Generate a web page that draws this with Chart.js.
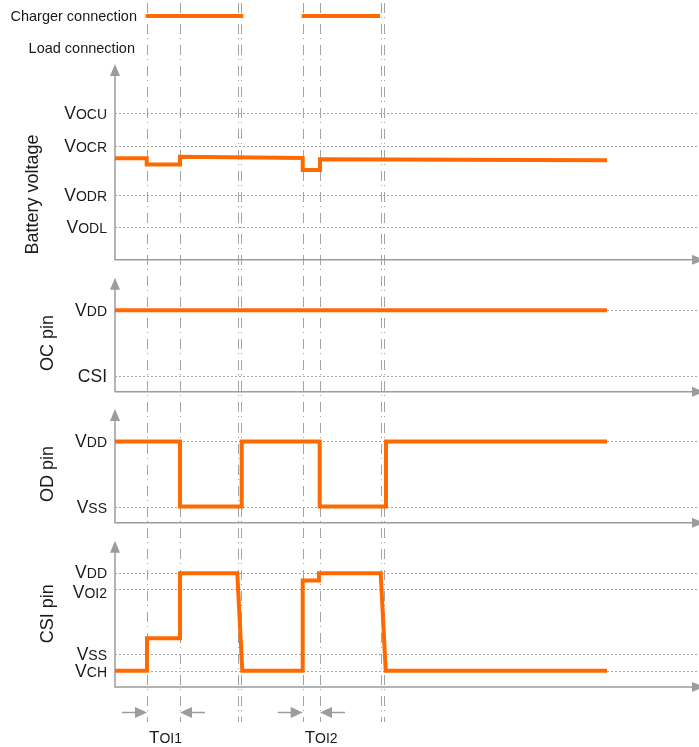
<!DOCTYPE html>
<html>
<head>
<meta charset="utf-8">
<script src="https://cdn.jsdelivr.net/npm/chart.js@4/dist/chart.umd.min.js"></script>
<style>
  html, body { margin: 0; padding: 0; background: #fff; overflow: hidden; }
  #wrap { width: 699px; height: 747px; position: relative; }
</style>
</head>
<body>
<div id="wrap"><canvas id="timing"></canvas></div>
<script>
// 時間軸は任意単位 (0 = 縦軸の位置)
const markerTimes = [3.2, 6.5, 12.27, 12.57, 18.77, 20.5, 26.6, 26.93];
const chargerOn = [[3.07, 12.83], [18.67, 26.5]];
const toiWindows = [[3.2, 6.5], [18.77, 20.5]];
const toiNames = [['T', 'OI1'], ['T', 'OI2']];

// 電池電圧
const batteryTimes = [0, 3.17, 3.17, 6.5, 6.5, 18.77, 18.77, 20.5, 20.5, 49.2];
const batteryValues = [6.22, 6.22, 5.84, 5.84, 6.32, 6.24, 5.5, 5.5, 6.16, 6.1];
const batteryLevels = [9, 7, 4, 2];
const batteryNames = [['V', 'OCU'], ['V', 'OCR'], ['V', 'ODR'], ['V', 'ODL']];

// OC端子
const ocTimes = [0, 49.2];
const ocValues = [5, 5];
const ocLevels = [5, 1];
const ocNames = [['V', 'DD'], ['CSI', '']];

// OD端子
const odTimes = [0, 6.5, 6.5, 12.67, 12.67, 20.47, 20.47, 27.1, 27.1, 49.2];
const odValues = [5, 5, 1, 1, 5, 5, 1, 1, 5, 5];
const odLevels = [5, 1];
const odNames = [['V', 'DD'], ['V', 'SS']];

// CSI端子
const csiTimes = [0, 3.2, 3.2, 6.5, 6.5, 12.23, 12.73, 18.77, 18.77, 20.4, 20.4, 26.57, 27.07, 49.2];
const csiValues = [1, 1, 3, 3, 7, 7, 1, 1, 6.55, 6.55, 7, 7, 1, 1];
const csiLevels = [7, 6, 2, 1];
const csiNames = [['V', 'DD'], ['V', 'OI2'], ['V', 'SS'], ['V', 'CH']];

const ORANGE = '#ff6a00';
const GRAY = '#a3a3a3';
const TEXT = '#1a1a1a';
const FONT = "'Liberation Sans', Arial, sans-serif";

const panels = [
  { axis: 'yBat', title: 'Battery voltage', titleAt: 4, titleX: 33, top: 12, levels: batteryLevels, names: batteryNames, nudge: [0, 0, 0, 0] },
  { axis: 'yOC', title: 'OC pin', titleAt: 3, titleX: 48, top: 7, levels: ocLevels, names: ocNames, nudge: [0, 0] },
  { axis: 'yOD', title: 'OD pin', titleAt: 3, titleX: 48, top: 7, levels: odLevels, names: odNames, nudge: [0, 0] },
  { axis: 'yCSI', title: 'CSI pin', titleAt: 4.5, titleX: 48, top: 9, levels: csiLevels, names: csiNames, nudge: [-1, 3, 0, 0] }
];

function toPoints(times, values) {
  return times.map((t, i) => ({ x: t, y: values[i] }));
}

function signal(times, values, axis) {
  return {
    data: toPoints(times, values),
    yAxisID: axis,
    borderColor: ORANGE,
    borderWidth: 4,
    borderJoinStyle: 'miter',
    borderCapStyle: 'butt',
    pointRadius: 0,
    tension: 0,
    fill: false
  };
}

const datasets = [
  ...chargerOn.map(([a, b]) => signal([a, b], [3, 3], 'yTop')),
  signal(batteryTimes, batteryValues, 'yBat'),
  signal(ocTimes, ocValues, 'yOC'),
  signal(odTimes, odValues, 'yOD'),
  signal(csiTimes, csiValues, 'yCSI')
];

// 小さい添字つきの文字を描く
function subText(ctx, main, sub, x, y, align, big, small) {
  ctx.font = big + 'px ' + FONT;
  const w1 = ctx.measureText(main).width;
  ctx.font = small + 'px ' + FONT;
  const w2 = sub ? ctx.measureText(sub).width : 0;
  const left = align === 'right' ? x - w1 - w2 : x;
  ctx.textAlign = 'left';
  ctx.textBaseline = 'alphabetic';
  ctx.font = big + 'px ' + FONT;
  ctx.fillText(main, left, y);
  if (sub) {
    ctx.font = small + 'px ' + FONT;
    ctx.fillText(sub, left + w1, y);
  }
}

function arrowHead(ctx, x, y, dir, len, half) {
  ctx.beginPath();
  ctx.moveTo(x, y);
  if (dir === 'up') {
    ctx.lineTo(x - half, y + len);
    ctx.lineTo(x + half, y + len);
  } else if (dir === 'right') {
    ctx.lineTo(x - len, y - half);
    ctx.lineTo(x - len, y + half);
  } else {
    ctx.lineTo(x + len, y - half);
    ctx.lineTo(x + len, y + half);
  }
  ctx.closePath();
  ctx.fill();
}

function hline(ctx, x1, x2, y) {
  ctx.beginPath();
  ctx.moveTo(x1, y);
  ctx.lineTo(x2, y);
  ctx.stroke();
}

const decor = {
  id: 'decor',
  beforeDatasetsDraw(chart) {
    const { ctx, scales } = chart;
    const xs = scales.x;
    const x0 = xs.getPixelForValue(0);
    const right = chart.width;
    ctx.save();

    // 各レベルの点線
    ctx.strokeStyle = GRAY;
    ctx.lineWidth = 1;
    ctx.setLineDash([2, 2]);
    panels.forEach(p => {
      const ys = scales[p.axis];
      p.levels.forEach(v => hline(ctx, x0, right, Math.round(ys.getPixelForValue(v)) + 0.5));
    });

    // タイミングの一点鎖線
    ctx.setLineDash([10, 4, 1, 6]);
    markerTimes.forEach(t => {
      const px = Math.round(xs.getPixelForValue(t)) + 0.5;
      ctx.beginPath();
      ctx.moveTo(px, 3);
      ctx.lineTo(px, 722);
      ctx.stroke();
    });

    // 軸と矢印
    ctx.setLineDash([]);
    ctx.lineWidth = 1.5;
    ctx.strokeStyle = '#9c9c9c';
    ctx.fillStyle = '#9c9c9c';
    panels.forEach(p => {
      const ys = scales[p.axis];
      const yTip = ys.getPixelForValue(p.top);
      const yBase = ys.getPixelForValue(0);
      ctx.beginPath();
      ctx.moveTo(x0, yTip + 10);
      ctx.lineTo(x0, yBase);
      ctx.lineTo(right - 4, yBase);
      ctx.stroke();
      arrowHead(ctx, x0, yTip, 'up', 12, 5);
      arrowHead(ctx, right + 5, yBase, 'right', 12, 5);
    });
    ctx.restore();
  },
  afterDatasetsDraw(chart) {
    const { ctx, scales } = chart;
    const xs = scales.x;
    const x0 = xs.getPixelForValue(0);
    ctx.save();
    ctx.fillStyle = TEXT;

    // 上段のラベル
    ctx.font = '14.5px ' + FONT;
    ctx.textAlign = 'right';
    ctx.textBaseline = 'alphabetic';
    ctx.fillText('Charger connection', x0 + 22, scales.yTop.getPixelForValue(3) + 5);
    ctx.fillText('Load connection', x0 + 20, scales.yTop.getPixelForValue(1) + 5);

    panels.forEach(p => {
      const ys = scales[p.axis];
      p.levels.forEach((v, i) => {
        const [main, sub] = p.names[i];
        subText(ctx, main, sub, x0 - 8, ys.getPixelForValue(v) + 6 + p.nudge[i], 'right', 17.5, 14);
      });
      ctx.save();
      ctx.translate(x0 - (115 - p.titleX), ys.getPixelForValue(p.titleAt));
      ctx.rotate(-Math.PI / 2);
      ctx.font = '18px ' + FONT;
      ctx.textAlign = 'center';
      ctx.textBaseline = 'middle';
      ctx.fillText(p.title, 0, 0);
      ctx.restore();
    });

    // TOI の矢印
    const yArrow = Math.round(scales.yBot.getPixelForValue(2.7)) + 0.5;
    ctx.strokeStyle = '#9c9c9c';
    ctx.fillStyle = '#9c9c9c';
    ctx.lineWidth = 1.5;
    toiWindows.forEach(([a, b]) => {
      const pa = xs.getPixelForValue(a);
      const pb = xs.getPixelForValue(b);
      hline(ctx, pa - 25, pa - 9, yArrow);
      arrowHead(ctx, pa, yArrow, 'right', 12, 5.5);
      hline(ctx, pb + 9, pb + 25, yArrow);
      arrowHead(ctx, pb, yArrow, 'left', 12, 5.5);
    });
    ctx.fillStyle = TEXT;
    toiWindows.forEach(([a], i) => {
      const [main, sub] = toiNames[i];
      subText(ctx, main, sub, xs.getPixelForValue(a) + 2, scales.yBot.getPixelForValue(0.3), 'left', 17, 14);
    });
    ctx.restore();
  }
};

function rowAxis(min, max, weight, stackWeight) {
  return { type: 'linear', display: false, position: 'left', stack: 'rows', stackWeight, weight, min, max };
}

const ctx = document.getElementById('timing').getContext('2d');
const timingChart = new Chart(ctx, {
  type: 'line',
  data: { datasets },
  options: {
    responsive: true,
    maintainAspectRatio: false,
    animation: false,
    events: [],
    layout: { padding: 0, autoPadding: false },
    plugins: { legend: { display: false }, tooltip: { enabled: false } },
    scales: {
      x: { type: 'linear', display: false, min: -11.5, max: 58.4 },
      yTop: rowAxis(0, 4, 6, 64),
      yBat: rowAxis(-0.5, 12, 5, 204),
      yOC: rowAxis(-0.5, 7.6, 4, 132),
      yOD: rowAxis(-0.5, 7.55, 3, 131),
      yCSI: rowAxis(-0.5, 9.6, 2, 164),
      yBot: rowAxis(0, 4, 1, 52)
    }
  },
  plugins: [decor]
});
</script>
</body>
</html>
